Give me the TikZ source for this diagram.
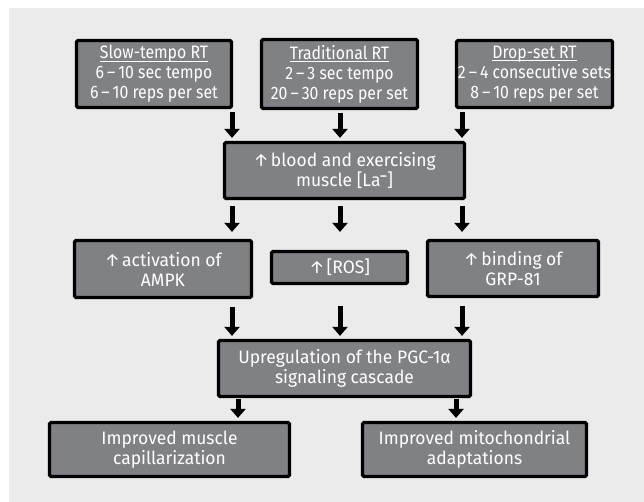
\documentclass[tikz,border=0pt]{standalone}
\usepackage{fontspec}
\setmainfont[FakeStretch=0.97]{Fira Sans}
\newfontfamily\narrowfont[FakeStretch=0.88]{Fira Sans}
\usetikzlibrary{arrows.meta,calc}
\definecolor{panelbg}{HTML}{EBEBEB}
\definecolor{boxfill}{HTML}{808184}
\tikzset{
  fbox/.style={draw=black, line width=3.2pt, fill=boxfill, rounded corners=1.5pt,
    text=white, align=center, inner sep=0pt,
    font=\fontsize{18}{20}\selectfont},
  topbox/.style={fbox, font=\narrowfont\fontsize{18}{20}\selectfont},
  blk/.style={line width=5pt, -{Triangle[width=15pt,length=9pt]}, black}
}
\newcommand{\dsh}{\,–\,}
\newcommand{\up}{↑\hspace{2pt}}
\newcommand{\ttl}[1]{\setbox0=\hbox{#1}\rlap{\raisebox{-3pt}{\rule{\wd0}{1pt}}}\box0}
\begin{document}
\begin{tikzpicture}[x=1pt,y=-1pt]
\useasboundingbox (0,0) rectangle (644,502);
\fill[panelbg] (9,8) rectangle (644,502);

\node[topbox, minimum width=155pt, minimum height=67pt] (slow) at (154,74)
  {\ttl{Slow-tempo RT}\\6\dsh10 sec tempo\\6\dsh10 reps per set};
\node[topbox, minimum width=156pt, minimum height=69pt] (trad) at (339.5,74)
  {\ttl{Traditional RT}\\2\dsh3 sec tempo\\20\dsh30 reps per set};
\node[topbox, minimum width=156pt, minimum height=67pt] (drop) at (534.5,74)
  {\ttl{Drop-set RT}\\2\dsh4 consecutive sets\\8\dsh10 reps per set};

\node[fbox, minimum width=240pt, minimum height=56pt] (blood) at (344.5,170.5)
  {\up blood and exercising\\muscle [La\textsuperscript{\textbf{–}}]};

\node[fbox, minimum width=177pt, minimum height=57pt] (ampk) at (163,269)
  {\up activation of\\AMPK};
\node[fbox, minimum width=136pt, minimum height=32pt] (ros) at (339.5,267.5)
  {\up [ROS]};
\node[fbox, minimum width=171pt, minimum height=56pt] (grp) at (513,268.5)
  {\up binding of\\GRP-81};

\node[fbox, minimum width=252pt, minimum height=56pt] (pgc) at (344.5,368.5)
  {Upregulation of the PGC-1α\\signaling cascade};

\node[fbox, minimum width=240pt, minimum height=54pt] (capil) at (169.5,449.5)
  {Improved muscle\\capillarization};
\node[fbox, minimum width=224pt, minimum height=54pt] (mito) at (474.5,449.5)
  {Improved mitochondrial\\adaptations};

% arrows top row -> blood
\draw[blk] ($(slow.south -| 232,0)+(0,3)$) -- ($(blood.north -| 232,0)+(0,-3)$);
\draw[blk] ($(trad.south -| 340,0)+(0,3)$) -- ($(blood.north -| 340,0)+(0,-3)$);
\draw[blk] ($(drop.south -| 462,0)+(0,3)$) -- ($(blood.north -| 462,0)+(0,-3)$);
% blood -> row 2
\draw[blk] ($(blood.south -| 232,0)+(0,6)$) -- ($(ampk.north -| 232,0)+(0,-7)$);
\draw[blk] ($(blood.south -| 340,0)+(0,6)$) -- ($(ros.north -| 340,0)+(0,-18)$);
\draw[blk] ($(blood.south -| 462,0)+(0,6)$) -- ($(grp.north -| 462,0)+(0,-7)$);
% row 2 -> pgc
\draw[blk] ($(ampk.south -| 232,0)+(0,8)$) -- ($(pgc.north -| 232,0)+(0,-3)$);
\draw[blk] ($(ros.south -| 340,0)+(0,21)$) -- ($(pgc.north -| 340,0)+(0,-3)$);
\draw[blk] ($(grp.south -| 462,0)+(0,8)$) -- ($(pgc.north -| 462,0)+(0,-3)$);
% pgc -> bottom
\draw[blk] ($(pgc.south -| 238,0)+(0,1)$) -- ($(capil.north -| 238,0)+(0,-3)$);
\draw[blk] ($(pgc.south -| 456,0)+(0,1)$) -- ($(mito.north -| 456,0)+(0,-3)$);
\end{tikzpicture}
\end{document}
